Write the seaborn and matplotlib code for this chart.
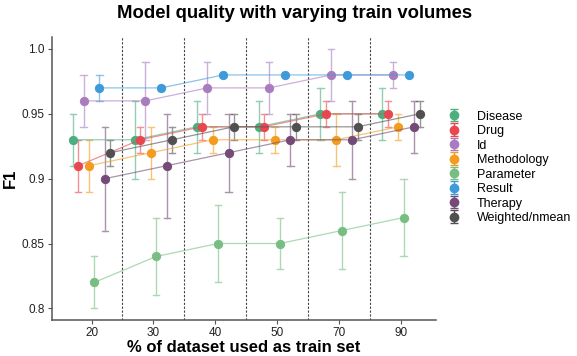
import numpy as np
import pandas as pd
import matplotlib
matplotlib.use("Agg")
import matplotlib.pyplot as plt
import matplotlib.colors as mcolors
import seaborn as sns

# Values (mean F1 and half-width of the error bar)
train_pct = ['20', '30', '40', '50', '70', '90']
groups = ['Disease', 'Drug', 'Id', 'Methodology', 'Parameter', 'Result', 'Therapy', 'Weighted/nmean']

disease = [0.93, 0.93, 0.94, 0.94, 0.95, 0.95]
disease_err = [0.02, 0.03, 0.02, 0.02, 0.02, 0.02]
drug = [0.91, 0.93, 0.94, 0.94, 0.95, 0.95]
drug_err = [0.02, 0.01, 0.01, 0.01, 0.01, 0.01]
id_ = [0.96, 0.96, 0.97, 0.97, 0.98, 0.98]
id_err = [0.02, 0.03, 0.02, 0.02, 0.02, 0.01]
methodology = [0.91, 0.92, 0.93, 0.93, 0.93, 0.94]
methodology_err = [0.02, 0.02, 0.01, 0.01, 0.02, 0.01]
parameter = [0.82, 0.84, 0.85, 0.85, 0.86, 0.87]
parameter_err = [0.02, 0.03, 0.03, 0.02, 0.03, 0.03]
result = [0.97, 0.97, 0.98, 0.98, 0.98, 0.98]
result_err = [0.01, 0.0, 0.0, 0.0, 0.0, 0.0]
therapy = [0.90, 0.91, 0.92, 0.93, 0.93, 0.94]
therapy_err = [0.04, 0.04, 0.03, 0.02, 0.03, 0.02]
weighted = [0.92, 0.93, 0.94, 0.94, 0.94, 0.95]
weighted_err = [0.01, 0.01, 0.01, 0.01, 0.01, 0.01]

colors = ['#4DAE80', '#E8474F', '#A97DBD', '#F39C1F', '#78BE82', '#3D9BD9', '#734B76', '#505050']

means = [disease, drug, id_, methodology, parameter, result, therapy, weighted]
errs = [disease_err, drug_err, id_err, methodology_err, parameter_err, result_err, therapy_err, weighted_err]

# long form: two rows per point (low / high end of the bar)
rows = []
for g, m, e in zip(groups, means, errs):
    for p, v, d in zip(train_pct, m, e):
        rows.append({'pct': p, 'group': g, 'F1': v - d})
        rows.append({'pct': p, 'group': g, 'F1': v + d})
df = pd.DataFrame(rows)

plt.rcParams['font.family'] = ['Liberation Sans', 'DejaVu Sans']

fig = plt.figure(figsize=(5.77, 3.56), dpi=100)
ax = fig.add_axes([0.090, 0.101, 0.666, 0.796])

sns.pointplot(data=df, x='pct', y='F1', hue='group', order=train_pct, hue_order=groups,
              palette=colors, dodge=0.6, estimator='mean',
              errorbar=lambda x: (x.min(), x.max()), capsize=0.1,
              markersize=6, linewidth=0.9, err_kws={'linewidth': 1.0, 'alpha': 0.6},
              legend=False, ax=ax)

# make connecting lines translucent but keep markers solid
for line in ax.lines:
    if line.get_marker() not in (None, 'None', '', ' '):
        c = mcolors.to_rgb(line.get_color())
        line.set_color((*c, 0.6))
        line.set_markerfacecolor((*c, 1.0))
        line.set_markeredgecolor((*c, 1.0))
        line.set_zorder(3)

for xv in [0.5, 1.5, 2.5, 3.5, 4.5]:
    ax.axvline(xv, color='#444444', linestyle=(0, (2, 1.5)), linewidth=0.8, zorder=1)

# legend handles: errorbar glyphs drawn off the visible range
handles = []
for c in colors:
    h = ax.errorbar([-10], [0.9], yerr=[0.01], fmt='o', color=c, markersize=6,
                    capsize=3, elinewidth=1, capthick=1)
    handles.append(h)

ax.set_xlim(-0.64, 5.57)
ax.set_ylim(0.791, 1.0095)
ax.set_yticks([0.8, 0.85, 0.9, 0.95, 1.0])
ax.set_yticklabels(['0.8', '0.85', '0.9', '0.95', '1.0'])

for s in ['top', 'right']:
    ax.spines[s].set_visible(False)
for s in ['left', 'bottom']:
    ax.spines[s].set_color('#555555')
    ax.spines[s].set_linewidth(1.1)
ax.tick_params(axis='both', colors='#555555', labelcolor='#222222', labelsize=8.5,
               length=3, width=0.8, pad=2)

ax.set_xlabel('% of dataset used as train set', fontsize=12, fontweight='bold', labelpad=1)
ax.set_ylabel('F1', fontsize=12, fontweight='bold', labelpad=3)
fig.suptitle('Model quality with varying train volumes', fontsize=13.3, fontweight='bold', x=0.51, y=0.985)

fig.legend(handles, groups, loc='center left', bbox_to_anchor=(0.755, 0.53), frameon=False,
           fontsize=9, handlelength=1.2, handletextpad=1.2, labelspacing=0.2)

fig.savefig('out.png', dpi=100)
